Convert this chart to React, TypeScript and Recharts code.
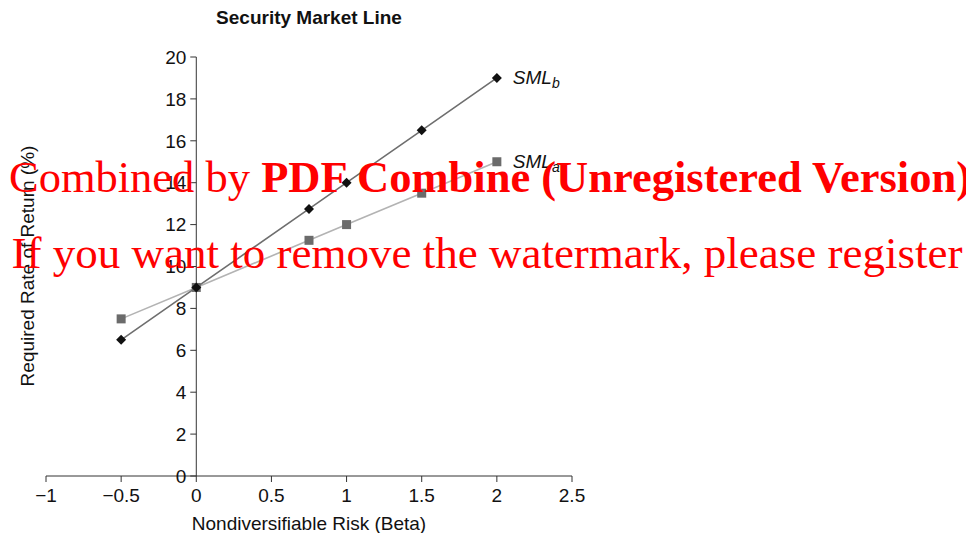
import {
  LineChart,
  Line,
  XAxis,
  YAxis,
  ReferenceLine,
  LabelList,
} from "recharts";

const betas = [-0.5, 0, 0.75, 1, 1.5, 2];
const smlB = [6.5, 9, 12.75, 14, 16.5, 19];
const smlA = [7.5, 9, 11.25, 12, 13.5, 15];
const xTicks = [-1, -0.5, 0, 0.5, 1, 1.5, 2, 2.5];
const yTicks = [0, 2, 4, 6, 8, 10, 12, 14, 16, 18, 20];

const dataB = betas.map((beta, i) => ({ beta, ret: smlB[i] }));
const dataA = betas.map((beta, i) => ({ beta, ret: smlA[i] }));

const FONT = "'Liberation Sans', Arial, Helvetica, sans-serif";
const SERIF = "'Liberation Serif', 'Times New Roman', serif";
const W = 974;
const H = 533;
const FS = 19;

const Diamond = (props: any) => {
  const { cx, cy } = props;
  const r = 5;
  return (
    <path
      d={`M${cx},${cy - r}L${cx + r},${cy}L${cx},${cy + r}L${cx - r},${cy}Z`}
      fill="#111"
    />
  );
};

const Square = (props: any) => {
  const { cx, cy } = props;
  const s = 9;
  return <rect x={cx - s / 2} y={cy - s / 2} width={s} height={s} fill="#6b6b6b" />;
};

// series name at the last point, with the letter as a subscript
const endLabel = (sub: string, last: number) => (props: any) => {
  const { x, y, index } = props;
  if (index !== last) return null;
  return (
    <text x={x + 16} y={y + 6} fontFamily={FONT} fontSize={FS} fontStyle="italic" fill="#111">
      SML
      <tspan fontSize={14} dy={4}>
        {sub}
      </tspan>
    </text>
  );
};

export default function App() {
  const last = betas.length - 1;
  const textStyle = { fontSize: FS, fill: "#111", fontFamily: FONT };
  return (
    <div style={{ position: "relative", width: W, height: H, marginTop: -8, marginLeft: -8, background: "#fff" }}>
      <LineChart
        width={W}
        height={H}
        margin={{ top: 57, right: 402, bottom: 0, left: 46 }}
        style={{ position: "absolute", left: 0, top: 0 }}
      >
        <XAxis
          dataKey="beta"
          type="number"
          domain={[-1, 2.5]}
          ticks={xTicks}
          allowDuplicatedCategory={false}
          height={57}
          stroke="#333"
          tickSize={6}
          tickMargin={7}
          tick={textStyle}
          tickFormatter={(v: number) => String(v).replace("-", "\u2212")}
          label={{
            value: "Nondiversifiable Risk (Beta)",
            position: "insideBottom",
            offset: 3,
            style: textStyle,
          }}
        />
        <YAxis type="number" domain={[0, 20]} ticks={yTicks} hide />
        <ReferenceLine x={0} stroke="#333" strokeWidth={1} />
        {yTicks.map((v) => (
          <ReferenceLine
            key={v}
            segment={[
              { x: -0.04, y: v },
              { x: 0, y: v },
            ]}
            stroke="#333"
            label={{
              value: String(v),
              position: "left",
              offset: 4,
              style: textStyle,
            }}
          />
        ))}
        <Line
          data={dataA}
          dataKey="ret"
          type="linear"
          stroke="#b3b3b3"
          strokeWidth={1.6}
          dot={<Square />}
          activeDot={false}
          isAnimationActive={false}
        >
          <LabelList dataKey="ret" content={endLabel("a", last)} />
        </Line>
        <Line
          data={dataB}
          dataKey="ret"
          type="linear"
          stroke="#6e6e6e"
          strokeWidth={1.6}
          dot={<Diamond />}
          activeDot={false}
          isAnimationActive={false}
        >
          <LabelList dataKey="ret" content={endLabel("b", last)} />
        </Line>
      </LineChart>

      <div
        style={{
          position: "absolute",
          left: 46,
          width: 526,
          top: 7,
          textAlign: "center",
          fontFamily: FONT,
          fontWeight: "bold",
          fontSize: FS,
          color: "#111",
        }}
      >
        Security Market Line
      </div>

      <div
        style={{
          position: "absolute",
          left: 28,
          top: 266,
          transform: "translate(-50%, -50%) rotate(-90deg)",
          whiteSpace: "nowrap",
          fontFamily: FONT,
          fontSize: FS,
          color: "#111",
        }}
      >
        Required Rate of Return (%)
      </div>

      <svg width={W} height={H} style={{ position: "absolute", left: 0, top: 0, pointerEvents: "none" }}>
        <text x={490} y={192} textAnchor="middle" fontFamily={SERIF} fontSize={44.5} fill="#ff0000">
          Combined by <tspan fontWeight="bold">PDF Combine (Unregistered Version)</tspan>
        </text>
        <text x={487} y={268} textAnchor="middle" fontFamily={SERIF} fontSize={45} fill="#ff0000">
          If you want to remove the watermark, please register
        </text>
      </svg>
    </div>
  );
}
